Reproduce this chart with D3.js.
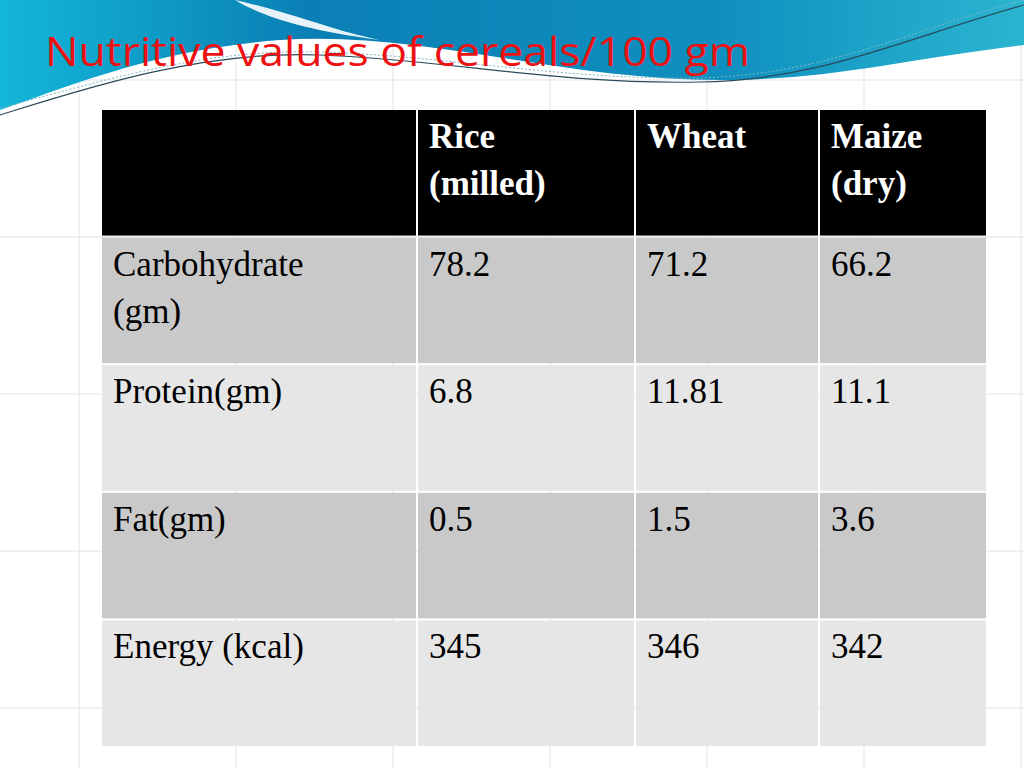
<!DOCTYPE html>
<html><head><meta charset="utf-8">
<script src="https://cdn.jsdelivr.net/npm/d3@7"></script>
<style>body{margin:0;background:#fff}</style>
</head><body>
<svg id="slide" width="1024" height="768"></svg>
<script>
const title = "Nutritive values of cereals/100 gm";
const columns = ["Rice\n(milled)", "Wheat", "Maize\n(dry)"];
const nutrients = ["Carbohydrate\n(gm)", "Protein(gm)", "Fat(gm)", "Energy (kcal)"];
const rice = ["78.2", "6.8", "0.5", "345"];
const wheat = ["71.2", "11.81", "1.5", "346"];
const maize = ["66.2", "11.1", "3.6", "342"];

const svg = d3.select("#slide");

// faint background grid
const grid = svg.append("g").attr("stroke", "#e3e3e3").attr("stroke-width", 1);
d3.range(79, 1024, 157).forEach(x => grid.append("line").attr("x1", x).attr("x2", x).attr("y1", 0).attr("y2", 768));
d3.range(80, 768, 157).forEach(y => grid.append("line").attr("x1", 0).attr("x2", 1024).attr("y1", y).attr("y2", y));

// header wave
const defs = svg.append("defs");
const g1 = defs.append("linearGradient").attr("id", "wave").attr("x1", 0).attr("x2", 1).attr("y1", 0).attr("y2", 0);
g1.append("stop").attr("offset", 0).attr("stop-color", "#13b6d8");
g1.append("stop").attr("offset", 0.3).attr("stop-color", "#0a7fb5");
g1.append("stop").attr("offset", 0.7).attr("stop-color", "#0f8fbf");
g1.append("stop").attr("offset", 1).attr("stop-color", "#2ab5d0");
svg.append("path")
  .attr("d", "M0,0 H1024 V45 C900,60 830,80 720,80 C560,80 420,30 280,40 C150,50 60,90 0,110 Z")
  .attr("fill", "url(#wave)");
svg.append("path")
  .attr("d", "M235,0 C300,15 330,30 380,40 C300,30 260,15 235,0 Z").attr("fill", "#fff").attr("opacity", 0.9);
svg.append("path")
  .attr("d", "M0,115 C80,90 200,50 320,55 C450,60 560,85 700,82 C820,80 900,40 1024,5")
  .attr("fill", "none").attr("stroke", "#2a4a5a").attr("stroke-width", 1.2);
svg.append("path")
  .attr("d", "M0,108 C90,85 200,48 320,52 C450,56 560,80 700,78 C830,74 910,30 1024,0")
  .attr("fill", "none").attr("stroke", "#7fb6c4").attr("stroke-width", 1).attr("stroke-dasharray", "2,2");

svg.append("text").attr("x", 45).attr("y", 66)
  .attr("font-family", "'Open Sans', sans-serif").attr("font-size", 40)
  .attr("textLength", 705).attr("lengthAdjust", "spacingAndGlyphs")
  .attr("fill", "#ee1111").text(title);

// table
const x = d3.scaleOrdinal().domain([0, 1, 2, 3, 4]).range([102, 416, 634, 818, 986]);
const rowY = d3.scaleBand().domain(d3.range(5)).range([110, 746]).paddingInner(0.016);
const font = "'Liberation Serif', 'DejaVu Serif', serif";

const rows = [{ label: "", cells: columns, header: true }]
  .concat(nutrients.map((n, i) => ({ label: n, cells: [rice[i], wheat[i], maize[i]] })));

const tbl = svg.append("g");
rows.forEach((r, ri) => {
  const y0 = rowY(ri), h = rowY.bandwidth();
  const fill = r.header ? "#000" : (ri % 2 === 1 ? "#c9c9c9" : "#e6e6e6");
  const texts = [r.label].concat(r.cells);
  texts.forEach((t, ci) => {
    const x0 = x(ci) + (ci ? 2 : 0), x1 = x(ci + 1);
    tbl.append("rect").attr("x", x0).attr("y", y0).attr("width", x1 - x0).attr("height", h).attr("fill", fill);
    const txt = tbl.append("text").attr("x", x0 + 11).attr("y", y0 + 38)
      .attr("font-family", font).attr("font-size", 35)
      .attr("font-weight", r.header ? "bold" : "normal")
      .attr("fill", r.header ? "#fff" : "#000");
    t.split("\n").forEach((line, li) => txt.append("tspan").attr("x", x0 + 11).attr("dy", li ? 47 : 0).text(line));
  });
});
</script>
</body></html>
